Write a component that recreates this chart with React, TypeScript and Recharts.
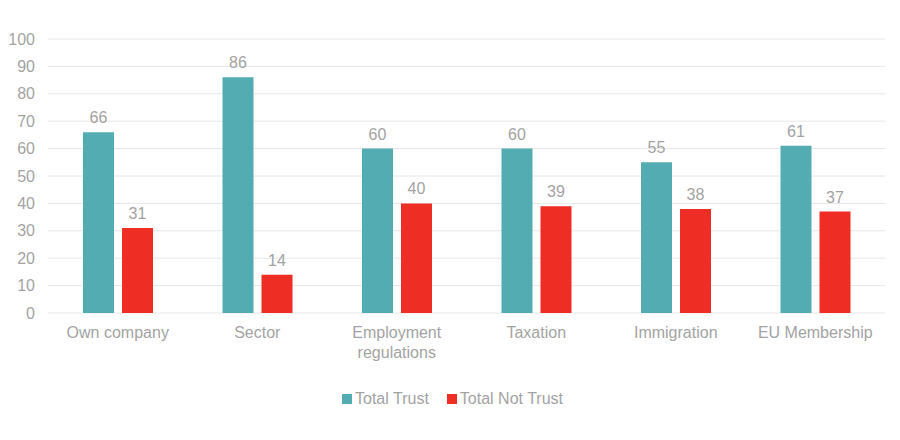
import { Bar, BarChart, CartesianGrid, LabelList, Legend, Text, XAxis, YAxis } from 'recharts';

const CATEGORIES = ['Own company', 'Sector', 'Employment regulations', 'Taxation', 'Immigration', 'EU Membership'];
const TRUST = [66, 86, 60, 60, 55, 61];
const NOT_TRUST = [31, 14, 40, 39, 38, 37];
const Y_TICKS = [0, 10, 20, 30, 40, 50, 60, 70, 80, 90, 100];

const TEAL = '#52acb1';
const RED = '#ee2d25';
const GREY = '#a3a3a3';
const FONT = '"Liberation Sans", Arial, sans-serif';

const data = CATEGORIES.map((name, i) => ({ name, trust: TRUST[i], notTrust: NOT_TRUST[i] }));

function CategoryTick(props: any) {
  const { x, y, payload } = props;
  return (
    <Text x={x} y={y} width={130} textAnchor="middle" verticalAnchor="start" lineHeight="1.2em" fill={GREY} fontSize={16} fontFamily={FONT}>
      {payload.value}
    </Text>
  );
}

function LegendBox() {
  const items = [
    { label: 'Total Trust', color: TEAL },
    { label: 'Total Not Trust', color: RED },
  ];
  return (
    <div style={{ display: 'flex', justifyContent: 'center', gap: 18, marginLeft: 20, fontFamily: FONT, fontSize: 16, color: GREY, lineHeight: '20px' }}>
      {items.map((it) => (
        <div key={it.label} style={{ display: 'flex', alignItems: 'center' }}>
          <span style={{ display: 'inline-block', width: 10, height: 10, background: it.color, marginRight: 3 }} />
          {it.label}
        </div>
      ))}
    </div>
  );
}

export default function App() {
  return (
    <div style={{ position: 'absolute', left: 0, top: 0, background: '#fff' }}>
      <BarChart width={900} height={440} data={data} margin={{ top: 39, right: 15, left: 0, bottom: 47 }} barGap={8} barSize={31}>
        <CartesianGrid vertical={false} stroke="#e6e6e6" />
        <XAxis dataKey="name" axisLine={false} tickLine={false} tickMargin={8} height={60} interval={0} tick={<CategoryTick />} />
        <YAxis
          domain={[0, 100]}
          ticks={Y_TICKS}
          axisLine={false}
          tickLine={false}
          width={48}
          tickMargin={7}
          tick={{ fill: GREY, fontSize: 16, fontFamily: FONT }}
        />
        <Legend verticalAlign="bottom" content={<LegendBox />} wrapperStyle={{ height: 20, bottom: 31 }} />
        <Bar dataKey="trust" name="Total Trust" fill={TEAL} isAnimationActive={false}>
          <LabelList dataKey="trust" position="top" offset={9} fill={GREY} fontSize={16} fontFamily={FONT} />
        </Bar>
        <Bar dataKey="notTrust" name="Total Not Trust" fill={RED} isAnimationActive={false}>
          <LabelList dataKey="notTrust" position="top" offset={9} fill={GREY} fontSize={16} fontFamily={FONT} />
        </Bar>
      </BarChart>
    </div>
  );
}
